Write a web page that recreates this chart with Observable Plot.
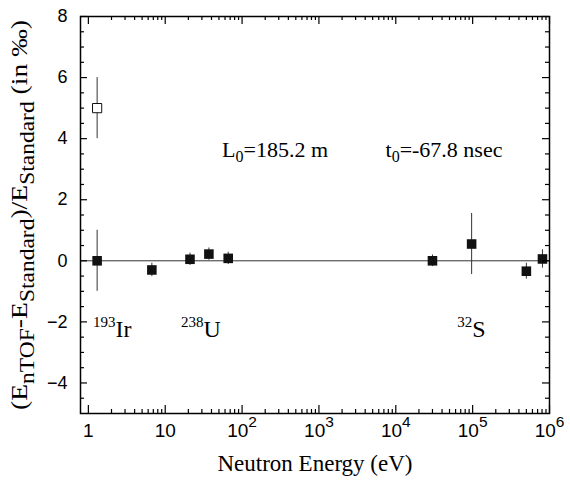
<!DOCTYPE html>
<html><head><meta charset="utf-8">
<script src="https://cdn.jsdelivr.net/npm/d3@7"></script>
<script src="https://cdn.jsdelivr.net/npm/@observablehq/plot@0.6"></script>
<style>body{margin:0;background:#fff}</style>
</head><body><div id="chart"></div>
<script>
// ---- data ----
const energy    = [1.3, 6.7, 21, 37, 66, 30000, 97000, 500000, 810000];
const deviation = [0.0, -0.30, 0.05, 0.22, 0.08, 0.0, 0.55, -0.34, 0.06];
const errorBar  = [1.0, 0.22, 0.20, 0.20, 0.20, 0.19, 1.0, 0.26, 0.30];
const openEnergy    = [1.3];
const openDeviation = [5.0];
const openError     = [1.0];

const xTickValues = [1, 10, 100, 1000, 10000, 100000, 1000000];
const xTickLabels = ["1", "10", "10^{2}", "10^{3}", "10^{4}", "10^{5}", "10^{6}"];
const yTickValues = [-4, -2, 0, 2, 4, 6, 8];
const yTickLabels = ["\u22124", "\u22122", "0", "2", "4", "6", "8"];

const isotopeText      = ["^{193}Ir", "^{238}U", "^{32}S"];
const isotopeEnergy    = [1.15, 16, 63000];
const isotopeDeviation = [-2.5, -2.5, -2.5];

const paramText      = ["L_{0}=185.2 m", "t_{0}=-67.8 nsec"];
const paramEnergy    = [55, 7350];
const paramDeviation = [3.41, 3.41];

const xTitle = "Neutron Energy (eV)";
const yTitle = "(E_{nTOF}-E_{Standard})/E_{Standard} (in \u2030)";

// ---- derived tables ----
const points = energy.map((e, i) => ({e, v: deviation[i], err: errorBar[i]}));
const openPoints = openEnergy.map((e, i) => ({e, v: openDeviation[i], err: openError[i]}));
const isotopes = isotopeText.map((t, i) => ({t, e: isotopeEnergy[i], v: isotopeDeviation[i]}));
const params = paramText.map((t, i) => ({t, e: paramEnergy[i], v: paramDeviation[i]}));

const xMinor = [];
for (let k = 0; k < 6; k++) for (let m = 2; m <= 9; m++) xMinor.push(m * 10 ** k);
const yMinor = d3.range(-4.5, 8, 0.5).filter(v => !yTickValues.includes(v));

const W = 570, H = 482, mL = 80, mR = 21, mT = 16, mB = 69;
const fw = W - mL - mR, fh = H - mT - mB;
const serif = "'Liberation Serif', 'DejaVu Serif', 'Times New Roman', serif";
const sans = "'Liberation Sans', Arial, Helvetica, sans-serif";
const ink = "#111";

const chart = Plot.plot({
  width: W, height: H,
  marginLeft: mL, marginRight: mR, marginTop: mT, marginBottom: mB,
  style: {fontSize: "18px", background: "white", color: "black"},
  x: {type: "log", domain: [0.79, 1e6]},
  y: {domain: [-5, 8]},
  marks: [
    Plot.ruleY([0], {stroke: "#333", strokeWidth: 1}),
    Plot.ruleX(points, {x: "e", y1: d => d.v - d.err, y2: d => d.v + d.err, stroke: "#333", strokeWidth: 1}),
    Plot.ruleX(openPoints, {x: "e", y1: d => d.v - d.err, y2: d => d.v + d.err, stroke: "#333", strokeWidth: 1}),
    Plot.dot(points, {x: "e", y: "v", symbol: "square", r: 5.4, fill: ink, stroke: "none"}),
    Plot.dot(openPoints, {x: "e", y: "v", symbol: "square", r: 5.2, fill: "white", stroke: ink, strokeWidth: 1}),
    // inward ticks on all four sides
    Plot.ruleX(xTickValues, {insetTop: fh - 8, stroke: "black", strokeWidth: 1.2}),
    Plot.ruleX(xTickValues, {insetBottom: fh - 8, stroke: "black", strokeWidth: 1.2}),
    Plot.ruleX(xMinor, {insetTop: fh - 4, stroke: "black", strokeWidth: 1.2}),
    Plot.ruleX(xMinor, {insetBottom: fh - 4, stroke: "black", strokeWidth: 1.2}),
    Plot.ruleY(yTickValues, {insetRight: fw - 7, stroke: "black", strokeWidth: 1.2}),
    Plot.ruleY(yTickValues, {insetLeft: fw - 7, stroke: "black", strokeWidth: 1.2}),
    Plot.ruleY(yMinor, {insetRight: fw - 4, stroke: "black", strokeWidth: 1.2}),
    Plot.ruleY(yMinor, {insetLeft: fw - 4, stroke: "black", strokeWidth: 1.2}),
    Plot.frame({stroke: "black", strokeWidth: 1.5}),
    Plot.axisX(xTickValues, {tickSize: 0, tickPadding: 10, label: null, fontFamily: sans, fontSize: 19,
      tickFormat: d => xTickLabels[xTickValues.indexOf(d)]}),
    Plot.axisY(yTickValues, {tickSize: 0, tickPadding: 13, label: null, fontFamily: sans, fontSize: 18,
      tickFormat: d => yTickLabels[yTickValues.indexOf(d)]}),
    Plot.text(isotopes, {x: "e", y: "v", text: "t", textAnchor: "start", lineAnchor: "bottom", fill: "black",
      fontFamily: serif, fontSize: 24}),
    Plot.text(params, {x: "e", y: "v", text: "t", textAnchor: "start", lineAnchor: "bottom", fill: "black",
      fontFamily: serif, fontSize: 22}),
    Plot.text([xTitle], {frameAnchor: "bottom", dy: 57, textAnchor: "middle", fill: "black",
      fontFamily: serif, fontSize: 23}),
    Plot.text([yTitle], {frameAnchor: "left", rotate: -90, dx: -61, textAnchor: "middle", fill: "black",
      fontFamily: serif, fontSize: 23.5})
  ]
});

document.getElementById("chart").append(chart);

// ---- rich text: every segment in its own tspan with explicit font ----
function rich(el, o) {
  const s = el.textContent;
  el.textContent = "";
  const re = /([_^])\{([^}]*)\}|([^_^]+)/g;
  let cur = 0, m;
  while ((m = re.exec(s))) {
    const t = document.createElementNS("http://www.w3.org/2000/svg", "tspan");
    let target = 0, txt, size = o.size;
    if (m[1] === "_") { target = o.sub; size = o.subSize; txt = m[2]; }
    else if (m[1] === "^") { target = -o.sup; size = o.supSize; txt = m[2]; }
    else txt = m[3];
    if (target !== cur) t.setAttribute("dy", target - cur);
    cur = target;
    t.setAttribute("style", `font-family:${o.family};font-size:${size}px`);
    t.textContent = txt;
    el.appendChild(t);
  }
  if (o.length) {
    el.setAttribute("textLength", o.length);
    el.setAttribute("lengthAdjust", "spacingAndGlyphs");
  }
}
const styles = [
  {family: serif, size: 24, supSize: 15, sup: 10, subSize: 16, sub: 6},     // isotopes
  {family: serif, size: 22, supSize: 15, sup: 9, subSize: 16, sub: 5},      // L0, t0
  {family: serif, size: 23, supSize: 15, sup: 9, subSize: 16, sub: 5},      // x title
  {family: serif, size: 23.5, supSize: 16, sup: 9, subSize: 20, sub: 6.5, length: 390}   // y title
];
chart.querySelectorAll('g[aria-label="text"]').forEach((g, i) => {
  g.querySelectorAll("text").forEach(el => rich(el, styles[i]));
});
chart.querySelectorAll('g[aria-label="x-axis tick label"] text').forEach(el =>
  rich(el, {family: sans, size: 19, supSize: 15.5, sup: 10.5, subSize: 15, sub: 6}));
chart.querySelectorAll('g[aria-label="y-axis tick label"] text').forEach(el =>
  rich(el, {family: sans, size: 18, supSize: 14, sup: 9, subSize: 14, sub: 5}));
</script>
</body></html>
